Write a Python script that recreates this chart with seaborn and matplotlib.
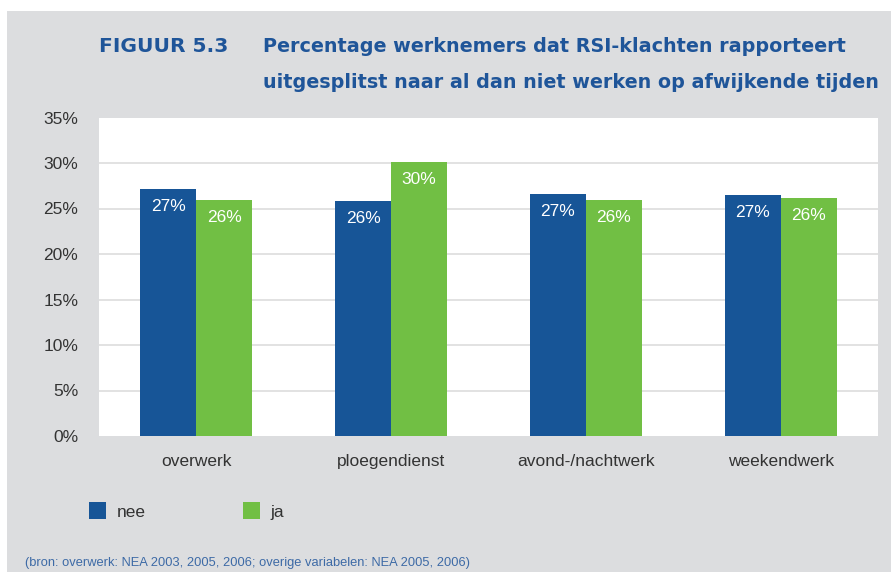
import matplotlib
matplotlib.use("Agg")
import matplotlib.pyplot as plt
import seaborn as sns
import pandas as pd
from matplotlib.patches import Rectangle

categories = ["overwerk", "ploegendienst", "avond-/nachtwerk", "weekendwerk"]
nee = [27.1, 25.8, 26.6, 26.5]
ja = [25.9, 30.1, 25.9, 26.1]
nee_labels = ["27%", "26%", "27%", "27%"]
ja_labels = ["26%", "30%", "26%", "26%"]
series = ["nee", "ja"]
yticks = [0, 5, 10, 15, 20, 25, 30, 35]

df = pd.DataFrame({
    "categorie": categories * 2,
    "groep": ["nee"] * len(categories) + ["ja"] * len(categories),
    "waarde": nee + ja,
})

W, H = 891, 572
BLUE = "#175597"
GREEN = "#71bf44"
GRAY = "#dcdddf"
TITLE = "#1f5599"
TXT = "#333333"

sns.set_theme(style="white")
plt.rcParams["font.family"] = ["Liberation Sans", "DejaVu Sans"]

fig = plt.figure(figsize=(W / 100, H / 100), dpi=100, facecolor="white")
fig.patches.append(Rectangle((7 / W, 0), 1 - 7 / W, (H - 11) / H,
                             transform=fig.transFigure, facecolor=GRAY,
                             edgecolor="none", zorder=-10))

ax = fig.add_axes([99 / W, (H - 436) / H, (878 - 99) / W, (436 - 117.5) / H])
ax.set_facecolor("white")

sns.barplot(data=df, x="categorie", y="waarde", hue="groep", hue_order=series,
            order=categories, palette=[BLUE, GREEN], width=0.575, gap=0,
            saturation=1, ax=ax, legend=True, zorder=3, linewidth=0)

ax.set_ylim(0, 35)
ax.set_xlim(-0.5, 3.5)
ax.set_yticks(yticks)
ax.set_yticklabels([f"{v}%" for v in yticks])
for s in ax.spines.values():
    s.set_visible(False)
for v in yticks[1:-1]:
    ax.axhline(v, color="#dddddd", lw=1.2, zorder=1)
ax.tick_params(axis="y", length=0, pad=15, labelsize=12.5, labelcolor=TXT)
ax.tick_params(axis="x", length=0, pad=13, labelsize=12.5, labelcolor=TXT)
ax.set_xlabel("")
ax.set_ylabel("")

for cont, labs in zip(ax.containers, [nee_labels, ja_labels]):
    ax.bar_label(cont, labels=labs, label_type="edge", padding=-18,
                 color="white", fontsize=12.5, zorder=5)

handles, labels = ax.get_legend_handles_labels()
ax.legend(handles, labels, loc="center left",
          bbox_to_anchor=(89 / W, 1 - 511 / H), bbox_transform=fig.transFigure,
          ncol=2, frameon=False, borderpad=0, borderaxespad=0,
          handlelength=1.0, handleheight=1.1, handletextpad=0.6,
          columnspacing=5.6, fontsize=12.5, labelcolor=TXT)

renderer = fig.canvas.get_renderer()


def fitted_text(x0, x1, yc, s, size, **kw):
    t = fig.text(x0 / W, 1 - yc / H, s, ha="left", va="center",
                 fontsize=size, **kw)
    w = t.get_window_extent(renderer).width
    t.set_fontsize(size * (x1 - x0) / w)
    return t


tkw = dict(fontweight="bold", color=TITLE, family="DejaVu Sans")
fitted_text(99, 228, 46, "FIGUUR 5.3", 14.5, **tkw)
fitted_text(263, 848, 46, "Percentage werknemers dat RSI-klachten rapporteert", 14.5, **tkw)
fitted_text(263, 878, 82, "uitgesplitst naar al dan niet werken op afwijkende tijden", 14.5, **tkw)
fitted_text(25, 470, 563,
            "(bron: overwerk: NEA 2003, 2005, 2006; overige variabelen: NEA 2005, 2006)",
            10, color="#3d6aa6")

fig.savefig("out.png", dpi=100, facecolor=fig.get_facecolor())
